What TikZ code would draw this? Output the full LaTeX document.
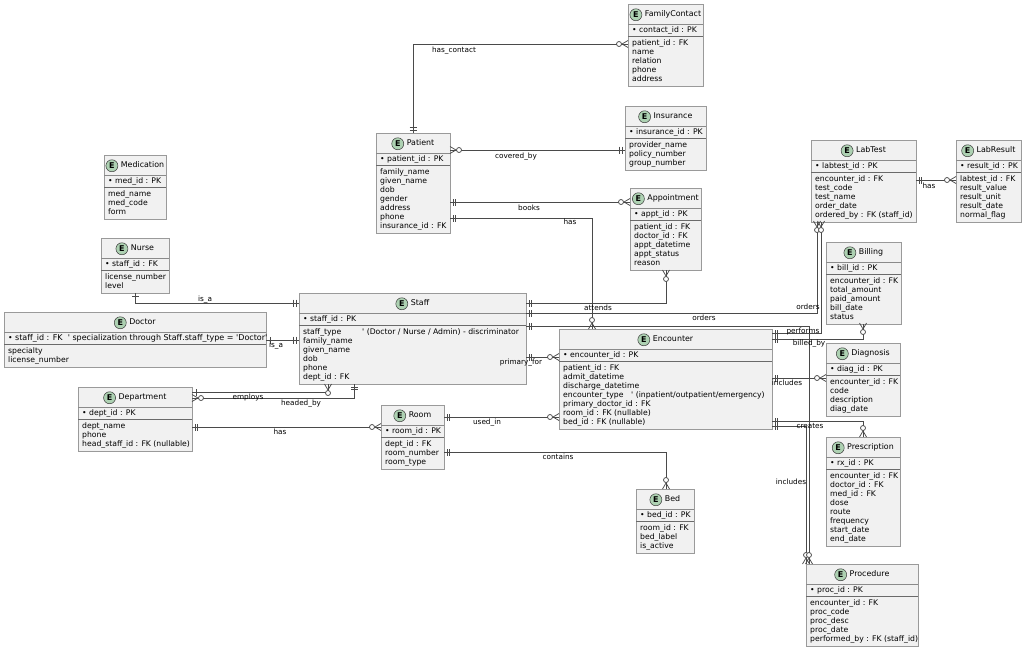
\documentclass[tikz,border=0pt]{standalone}
\usepackage{fontspec}
\setmainfont{DejaVu Sans}
\usetikzlibrary{calc}
\definecolor{boxfill}{HTML}{F1F1F1}
\definecolor{boxline}{HTML}{9A9A9A}
\definecolor{sepc}{HTML}{8A8A8A}
\definecolor{sepc2}{HTML}{6A6A6A}
\definecolor{connc}{HTML}{4A4A4A}
\definecolor{ecircfill}{HTML}{ADD1B2}
\definecolor{ecircline}{HTML}{3A3A3A}
\tikzset{
  ebox/.style={draw=boxline, fill=boxfill, line width=0.8pt, inner sep=0pt, outer sep=0pt, rectangle},
  esep/.style={draw=sepc, line width=0.7pt},
  esep2/.style={draw=sepc2, line width=0.8pt},
  etext/.style={font=\fontsize{7.7}{9}\selectfont, inner sep=0pt, text=black},
  etitle/.style={font=\fontsize{7.9}{9}\selectfont, inner sep=0pt, text=black, text height=5.8pt, text depth=1.7pt},
  ecirc/.style={circle, draw=ecircline, line width=0.5pt, fill=ecircfill, minimum size=12pt, inner sep=0pt, font=\fontsize{8}{8}\selectfont\bfseries},
  conn/.style={draw=connc, line width=0.75pt},
  rlabel/.style={font=\fontsize{7.3}{8}\selectfont, inner sep=0pt, text=black, text height=5.5pt, text depth=1.5pt},
}
% #1 id, #2 left, #3 top, #4 right, #5 number of attributes, #6 title, #7 key, #8 attributes
\newcommand\entity[8]{%
  \pgfmathsetmacro\eh{37+9*#5}%
  \pgfmathsetmacro\ew{#4-#2}%
  \node[ebox, minimum width=\ew pt, minimum height=\eh pt, anchor=north west] (#1) at (#2,#3) {};
  \draw[esep] (#2,#3+20) -- (#4,#3+20);
  \draw[esep2] (#2,#3+32) -- (#4,#3+32);
  \node[etitle, anchor=base] (#1-t) at ({(#2+#4)/2+7.5},#3+12.8) {#6};
  \node[ecirc] (#1-e) at ($(#1-t.west)+(-8.8,0)$) {E};
  \node[etext, anchor=base west] (#1-pk) at (#2+4,#3+28.8) {\textbullet\ #7};
  \foreach \a [count=\i] in {#8} {\node[etext, anchor=base west] (#1-a\i) at (#2+4,{#3+32.7+9*\i}) {\a};}
}
% markers: x y dx dy (point on the box edge, outward direction)
\newcommand\crowm[4]{%
  \draw[conn] ({#1+6*(#3)},{#2+6*(#4)}) -- ({#1+3.5*(#4)},{#2+3.5*(#3)})
              ({#1+6*(#3)},{#2+6*(#4)}) -- ({#1-3.5*(#4)},{#2-3.5*(#3)});
  \draw[conn, fill=white] ({#1+9*(#3)},{#2+9*(#4)}) circle[radius=2.5pt];
}
\newcommand\tickm[5]{%
  \draw[conn] ({#1+#5*(#3)+3.5*(#4)},{#2+#5*(#4)+3.5*(#3)}) -- ({#1+#5*(#3)-3.5*(#4)},{#2+#5*(#4)-3.5*(#3)});
}
\newcommand\onem[4]{\tickm{#1}{#2}{#3}{#4}{4}}
\newcommand\twom[4]{\tickm{#1}{#2}{#3}{#4}{3}\tickm{#1}{#2}{#3}{#4}{5.5}}
\newcommand\q{\textquotesingle}
\begin{document}
\begin{tikzpicture}[x=1pt,y=-1pt]
\useasboundingbox[fill=white] (0,0) rectangle (1024,649);

% ---------- entities ----------
\entity{familycontact}{628}{4}{703}{5}{FamilyContact}{contact\_id : PK}{patient\_id : FK, name, relation, phone, address}
\entity{insurance}{625}{106}{706}{3}{Insurance}{insurance\_id : PK}{provider\_name, policy\_number, group\_number}
\entity{patient}{376}{133}{450}{7}{Patient}{patient\_id : PK}{family\_name, given\_name, dob, gender, address, phone, insurance\_id : FK}
\entity{appointment}{630}{188}{701}{5}{Appointment}{appt\_id : PK}{patient\_id : FK, doctor\_id : FK, appt\_datetime, appt\_status, reason}
\entity{medication}{104}{155}{166}{3}{Medication}{med\_id : PK}{med\_name, med\_code, form}
\entity{nurse}{101}{238}{169}{2}{Nurse}{staff\_id : FK}{license\_number, level}
\entity{doctor}{4}{312}{266}{2}{Doctor}{\fontsize{8}{9}\selectfont staff\_id : FK\ \ \q{} specialization through Staff.staff\_type = \q{}Doctor\q}{specialty, license\_number}
\entity{staff}{299}{293}{526}{6}{Staff}{staff\_id : PK}{\makebox[59pt][l]{staff\_type}\q{} (Doctor / Nurse / Admin) - discriminator, family\_name, given\_name, dob, phone, dept\_id : FK}
\entity{department}{78}{387}{192}{3}{Department}{dept\_id : PK}{dept\_name, phone, head\_staff\_id : FK (nullable)}
\entity{room}{381}{405}{444}{3}{Room}{room\_id : PK}{dept\_id : FK, room\_number, room\_type}
\entity{bed}{636}{489}{694}{3}{Bed}{bed\_id : PK}{room\_id : FK, bed\_label, is\_active}
\entity{encounter}{559}{329}{772}{7}{Encounter}{encounter\_id : PK}{patient\_id : FK, admit\_datetime, discharge\_datetime, \makebox[68pt][l]{encounter\_type}\q{} (inpatient/outpatient/emergency), primary\_doctor\_id : FK, room\_id : FK (nullable), bed\_id : FK (nullable)}
\entity{labtest}{811}{140}{916}{5}{LabTest}{labtest\_id : PK}{encounter\_id : FK, test\_code, test\_name, order\_date, ordered\_by : FK (staff\_id)}
\entity{labresult}{956}{140}{1021}{5}{LabResult}{result\_id : PK}{labtest\_id : FK, result\_value, result\_unit, result\_date, normal\_flag}
\entity{billing}{826}{242}{901}{5}{Billing}{bill\_id : PK}{encounter\_id : FK, total\_amount, paid\_amount, bill\_date, status}
\entity{diagnosis}{826}{343}{900}{4}{Diagnosis}{diag\_id : PK}{encounter\_id : FK, code, description, diag\_date}
\entity{prescription}{826}{437}{900}{8}{Prescription}{rx\_id : PK}{encounter\_id : FK, doctor\_id : FK, med\_id : FK, dose, route, frequency, start\_date, end\_date}
\entity{procedure}{806}{564}{918}{5}{Procedure}{proc\_id : PK}{encounter\_id : FK, proc\_code, proc\_desc, proc\_date, performed\_by : FK (staff\_id)}

% ---------- connectors ----------
% Patient
\draw[conn] (patient.north -| 413,0) |- (familycontact.west |- 0,44);
\twom{413}{133}{0}{-1}\crowm{628}{44}{-1}{0}
\draw[conn] (patient.east |- 0,150) -- (insurance.west |- 0,150);
\crowm{450}{150}{1}{0}\twom{625}{150}{-1}{0}
\draw[conn] (patient.east |- 0,202) -- (appointment.west |- 0,202);
\twom{450}{202}{1}{0}\crowm{630}{202}{-1}{0}
\draw[conn] (patient.east |- 0,218) -| (encounter.north -| 592,0);
\twom{450}{218}{1}{0}\crowm{592}{329}{0}{-1}
% Staff
\draw[conn] (staff.east |- 0,303) -| (appointment.south -| 666,0);
\twom{526}{303}{1}{0}\crowm{666}{270}{0}{1}
\draw[conn] (staff.east |- 0,313) -| (labtest.south -| 817,0);
\twom{526}{313}{1}{0}
\draw[conn] (staff.east |- 0,326) -| (procedure.north -| 809,0);
\twom{526}{326}{1}{0}
\draw[conn] (staff.east |- 0,357) -- (encounter.west |- 0,357);
\twom{526}{357}{1}{0}\crowm{559}{357}{-1}{0}
\draw[conn] (nurse.south -| 135,0) |- (staff.west |- 0,303);
\onem{135}{292}{0}{1}\twom{299}{303}{-1}{0}
\draw[conn] (doctor.east |- 0,340) -- (staff.west |- 0,340);
\onem{266}{340}{1}{0}\twom{299}{340}{-1}{0}
\draw[conn] (staff.south -| 328,0) |- (department.east |- 0,392);
\onem{192}{392}{1}{0}
\draw[conn] (staff.south -| 354,0) |- (department.east |- 0,398);
\twom{354}{384}{0}{1}\crowm{192}{398}{1}{0}
\crowm{328}{384}{0}{1}
% Department / Room
\draw[conn] (department.east |- 0,427) -- (room.west |- 0,427);
\twom{192}{427}{1}{0}\crowm{381}{427}{-1}{0}
\draw[conn] (room.east |- 0,417) -- (encounter.west |- 0,417);
\twom{444}{417}{1}{0}\crowm{559}{417}{-1}{0}
\draw[conn] (room.east |- 0,452) -| (bed.north -| 666,0);
\twom{444}{452}{1}{0}\crowm{666}{489}{0}{-1}
% Encounter
\draw[conn] (encounter.east |- 0,333) -| (labtest.south -| 821,0);
\twom{772}{333}{1}{0}
\crowm{817}{221}{0}{1}\crowm{821}{221}{0}{1}
\draw[conn] (encounter.east |- 0,339) -| (billing.south -| 863,0);
\twom{772}{339}{1}{0}\crowm{863}{323}{0}{1}
\draw[conn] (encounter.east |- 0,378) -- (diagnosis.west |- 0,378);
\twom{772}{378}{1}{0}\crowm{826}{378}{-1}{0}
\draw[conn] (encounter.east |- 0,421) -| (prescription.north -| 863,0);
\twom{772}{421}{1}{0}\crowm{863}{437}{0}{-1}
\draw[conn] (encounter.east |- 0,426) -| (procedure.north -| 806,0);
\twom{772}{426}{1}{0}
\crowm{806}{564}{0}{-1}\crowm{809}{564}{0}{-1}
% LabTest
\draw[conn] (labtest.east |- 0,180) -- (labresult.west |- 0,180);
\twom{916}{180}{1}{0}\crowm{956}{180}{-1}{0}

% ---------- labels ----------
\node[rlabel] (l-hascontact) at (454,50) {has\_contact};
\node[rlabel] (l-covered) at (516,156) {covered\_by};
\node[rlabel] (l-books) at (529,208) {books};
\node[rlabel] (l-hasenc) at (570,222) {has};
\node[rlabel] (l-attends) at (598,308) {attends};
\node[rlabel] (l-orders1) at (704,318) {orders};
\node[rlabel] (l-primary) at (521,362) {primary\_for};
\node[rlabel] (l-usedin) at (487,422) {used\_in};
\node[rlabel] (l-contains) at (558,457) {contains};
\node[rlabel] (l-hasroom) at (280,432) {has};
\node[rlabel] (l-employs) at (248,397) {employs};
\node[rlabel] (l-headed) at (301,403) {headed\_by};
\node[rlabel] (l-isa1) at (205,299) {is\_a};
\node[rlabel] (l-isa2) at (276,345) {is\_a};
\node[rlabel] (l-haslab) at (929,186) {has};
\node[rlabel] (l-orders2) at (808,307) {orders};
\node[rlabel] (l-performs) at (803,331) {performs};
\node[rlabel] (l-billed) at (809,343) {billed\_by};
\node[rlabel] (l-incdiag) at (787,383) {includes};
\node[rlabel] (l-creates) at (810,426) {creates};
\node[rlabel] (l-incproc) at (791,482) {includes};
\end{tikzpicture}
\end{document}
